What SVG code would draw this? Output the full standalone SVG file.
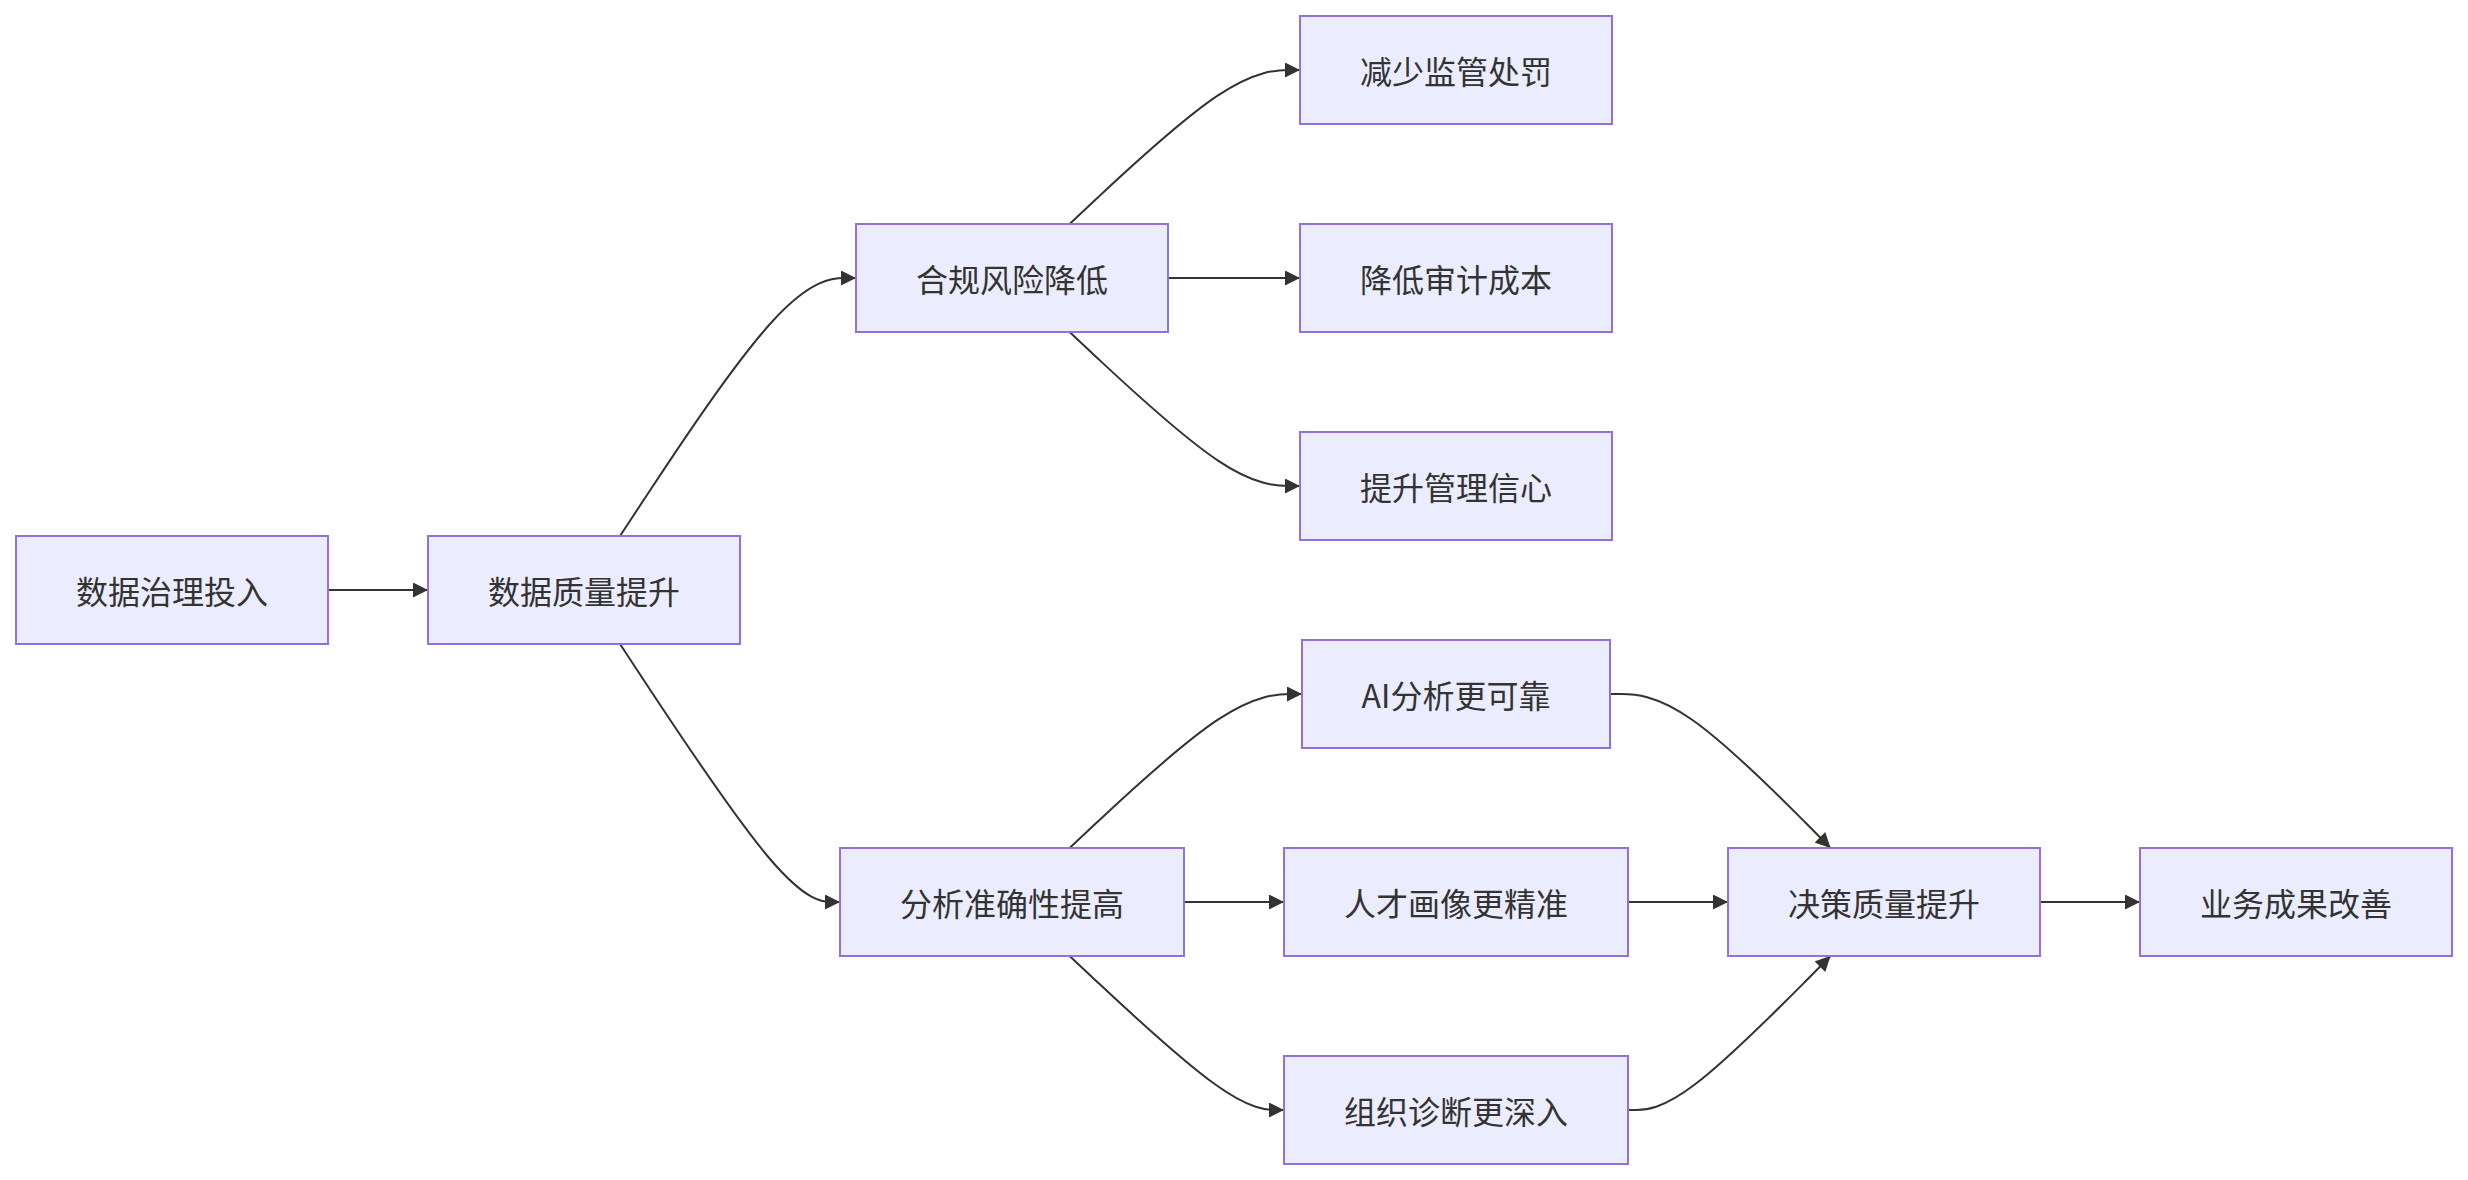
<svg xmlns="http://www.w3.org/2000/svg" width="2468" height="1180" viewBox="0 0 2468 1180">
<style>
.node rect{fill:#ECECFF;stroke:#9370DB;stroke-width:2}
.node text{font-family:"Noto Sans CJK SC","Noto Sans",sans-serif;font-size:32px;fill:#333;text-anchor:middle;dominant-baseline:central}
.edges path{fill:none;stroke:#333;stroke-width:2;marker-end:url(#arrow)}
</style>
<defs>
<marker id="arrow" viewBox="0 0 10 10" refX="10" refY="5" markerUnits="userSpaceOnUse" markerWidth="16" markerHeight="15" orient="auto">
<path d="M0,0 L10,5 L0,10 z" fill="#333"/>
</marker>
</defs>
<rect width="2468" height="1180" fill="#fff"/>
<g class="edges">
<path d="M328,590 L428,590"/>
<path d="M620,536 L648.3,493 C676.7,450 733.3,364 772.7,321 C812,278 834,278 845,278 L856,278"/>
<path d="M620,644 L648.3,687 C676.7,730 733.3,816 770,859 C806.7,902 823.3,902 831.7,902 L840,902"/>
<path d="M1069.6,224 L1097,198.3 C1124.4,172.7 1179.2,121.3 1217.6,95.7 C1256,70 1278,70 1289,70 L1300,70"/>
<path d="M1168,278 L1300,278"/>
<path d="M1069.6,332 L1097,357.7 C1124.4,383.3 1179.2,434.7 1217.6,460.3 C1256,486 1278,486 1289,486 L1300,486"/>
<path d="M1069.6,848 L1097,822.3 C1124.4,796.7 1179.2,745.3 1217.9,719.7 C1256.7,694 1279.3,694 1290.7,694 L1302,694"/>
<path d="M1184,902 L1284,902"/>
<path d="M1069.6,956 L1097,981.7 C1124.4,1007.3 1179.2,1058.7 1215,1084.3 C1250.7,1110 1267.3,1110 1275.7,1110 L1284,1110"/>
<path d="M1610,694 L1621.3,694 C1632.7,694 1655.3,694 1692.1,719.7 C1728.8,745.3 1779.7,796.7 1805.1,822.3 L1830.5,848"/>
<path d="M1628,902 L1728,902"/>
<path d="M1628,1110 L1636.3,1110 C1644.7,1110 1661.3,1110 1695.1,1084.3 C1728.8,1058.7 1779.7,1007.3 1805.1,981.7 L1830.5,956"/>
<path d="M2040,902 L2140,902"/>
</g>
<g id="A" class="node"><rect x="16" y="536" width="312" height="108"/><text x="172" y="590">数据治理投入</text></g>
<g id="B" class="node"><rect x="428" y="536" width="312" height="108"/><text x="584" y="590">数据质量提升</text></g>
<g id="C" class="node"><rect x="856" y="224" width="312" height="108"/><text x="1012" y="278">合规风险降低</text></g>
<g id="D" class="node"><rect x="1300" y="16" width="312" height="108"/><text x="1456" y="70">减少监管处罚</text></g>
<g id="E" class="node"><rect x="1300" y="224" width="312" height="108"/><text x="1456" y="278">降低审计成本</text></g>
<g id="F" class="node"><rect x="1300" y="432" width="312" height="108"/><text x="1456" y="486">提升管理信心</text></g>
<g id="G" class="node"><rect x="840" y="848" width="344" height="108"/><text x="1012" y="902">分析准确性提高</text></g>
<g id="H" class="node"><rect x="1302" y="640" width="308" height="108"/><text x="1456" y="694">AI分析更可靠</text></g>
<g id="I" class="node"><rect x="1284" y="848" width="344" height="108"/><text x="1456" y="902">人才画像更精准</text></g>
<g id="J" class="node"><rect x="1284" y="1056" width="344" height="108"/><text x="1456" y="1110">组织诊断更深入</text></g>
<g id="K" class="node"><rect x="1728" y="848" width="312" height="108"/><text x="1884" y="902">决策质量提升</text></g>
<g id="L" class="node"><rect x="2140" y="848" width="312" height="108"/><text x="2296" y="902">业务成果改善</text></g>
</svg>
